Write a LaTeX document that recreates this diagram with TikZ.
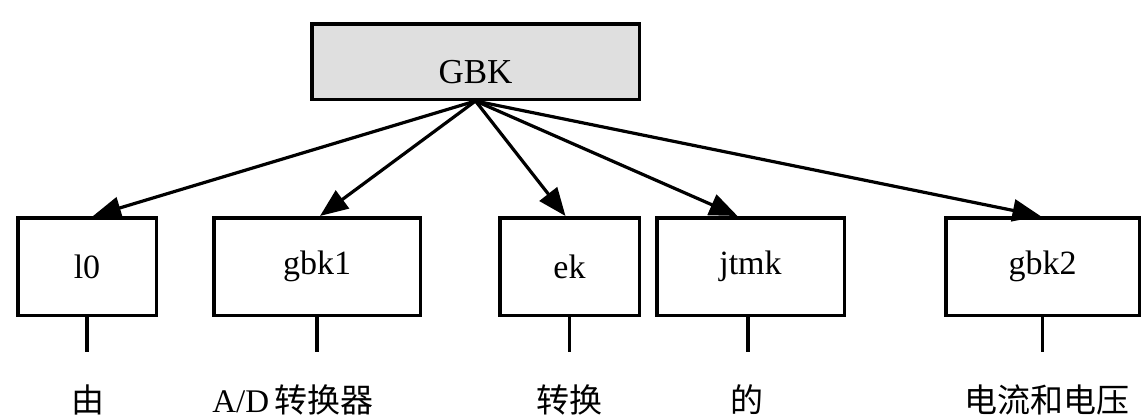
\documentclass[tikz,border=0pt]{standalone}
\usepackage{fontspec}
\setmainfont{Liberation Serif}
\newfontfamily\cjk{Noto Sans CJK SC}
\usetikzlibrary{arrows.meta}
\begin{document}
\begin{tikzpicture}[x=1pt,y=-1pt,
  box/.style={draw, line width=3.5pt, minimum width=#1, minimum height=97.5pt,
    inner sep=0pt, font=\fontsize{34}{40}\selectfont},
  top/.style={draw, fill=gray!25, line width=3.5pt, minimum width=327.5pt,
    minimum height=75.5pt, inner sep=0pt},
  conn/.style={line width=3.2pt, -{Triangle[length=28pt,width=22pt]}},
  stub/.style={line width=3.2pt},
  lab/.style={font=\fontsize{33}{38}\selectfont, inner sep=0pt}]
\useasboundingbox (0,0) rectangle (1144,418);
\node[top, label={[name=gbkt, yshift=-11pt, font=\fontsize{35}{40}\selectfont]center:GBK}] (gbk) at (475.5,61.5) {};
\node[box=138.5pt] (l0) at (87,266.5) {l0};
\node[box=206.5pt] (gbk1) at (317,266.5) {gbk1};
\node[box=139.5pt] (ek) at (569.5,266.5) {ek};
\node[box=187.5pt] (jtmk) at (750.5,266.5) {jtmk};
\node[box=193.5pt] (gbk2) at (1042.5,266.5) {gbk2};
\draw[conn] (gbk.south) -- ([xshift=6pt]l0.north);
\draw[conn] (gbk.south) -- ([xshift=3pt]gbk1.north);
\draw[conn] (gbk.south) -- ([xshift=-4pt]ek.north);
\draw[conn] (gbk.south) -- ([xshift=-13pt]jtmk.north);
\draw[conn] (gbk.south) -- ([xshift=-2pt]gbk2.north);
\coordinate (s0) at (87,352);
\coordinate (s1) at (317,352);
\coordinate (s2) at (569.5,352);
\coordinate (s3) at (748,352);
\coordinate (s4) at (1042.5,352);
\draw[stub] (l0.south) -- (s0);
\draw[stub] (gbk1.south) -- (s1);
\draw[stub] (ek.south) -- (s2);
\draw[stub] ([xshift=-2.5pt]jtmk.south) -- (s3);
\draw[stub] (gbk2.south) -- (s4);
\node[lab] (t0) at (88,400) {\cjk 由};
\node[lab] (t1) at (293,400) {A/D\,{\cjk 转换器}};
\node[lab] (t2) at (569,400) {\cjk 转换};
\node[lab] (t3) at (747,400) {\cjk 的};
\node[lab] (t4) at (1047,400) {\cjk 电流和电压};
\end{tikzpicture}
\end{document}
